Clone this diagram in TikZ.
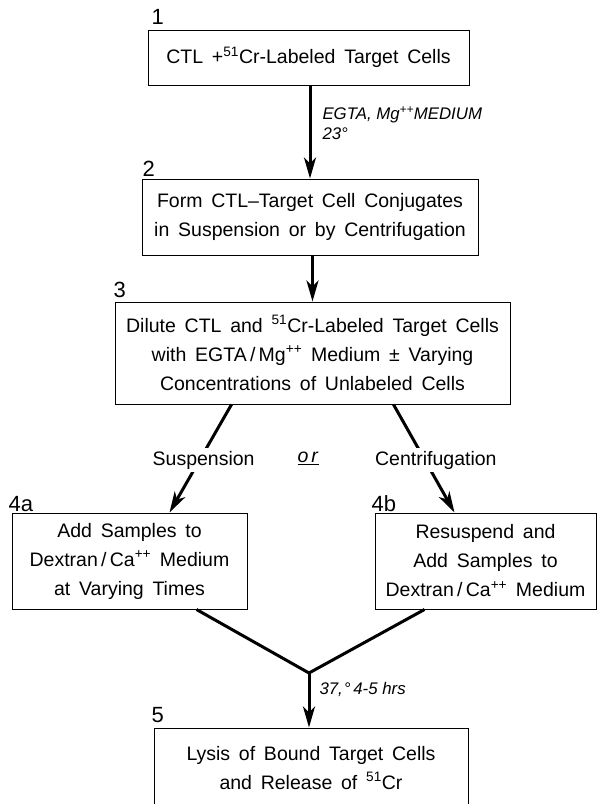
\documentclass[tikz,border=0pt]{standalone}
\usepackage{fontspec}
\setmainfont{Liberation Sans}
\usetikzlibrary{arrows.meta}
\newcommand\boxfont{\fontsize{19.5}{29}\selectfont\spaceskip=0.45em\relax}
\newcommand\numfont{\fontsize{22}{22}\selectfont}
\newcommand\condfont{\fontsize{16.8}{20}\selectfont\itshape}
\begin{document}
\begin{tikzpicture}[x=1pt,y=-1pt,
  box/.style={draw, line width=1pt, rectangle, inner sep=0pt, align=center, font=\boxfont},
  flow/.style={line width=3pt, -{Stealth[length=21pt,width=12pt,inset=6pt]}},
  plainline/.style={line width=3pt, line join=miter},
  num/.style={font=\numfont, anchor=base west, inner sep=0pt},
  cond/.style={font=\condfont, align=left, inner sep=0pt, anchor=west},
  branch/.style={font=\boxfont, fill=white, inner sep=3pt},
]
\useasboundingbox (0,0) rectangle (597,804);

% boxes
\node[box, minimum width=321pt, minimum height=55pt] (b1) at (308.5,57.5)
  {CTL +\textsuperscript{51}Cr-Labeled Target Cells};
\node[box, minimum width=336pt, minimum height=76pt] (b2) at (310,217)
  {Form CTL–Target Cell Conjugates\\in Suspension or by Centrifugation};
\node[box, minimum width=395pt, minimum height=102pt] (b3) at (312.5,353)
  {Dilute CTL and \textsuperscript{51}Cr-Labeled Target Cells\\with EGTA\,/\,Mg\textsuperscript{++} Medium ± Varying\\Concentrations of Unlabeled Cells};
\node[box, minimum width=235pt, minimum height=96pt] (b4a) at (129.5,561)
  {Add Samples to\\Dextran\,/\,Ca\textsuperscript{++} Medium\\at Varying Times};
\node[box, minimum width=221pt, minimum height=96pt] (b4b) at (485.5,561)
  {Resuspend and\\Add Samples to\\Dextran\,/\,Ca\textsuperscript{++} Medium};
\node[box, minimum width=314pt, minimum height=80pt] (b5) at (311,768)
  {Lysis of Bound Target Cells\\and Release of \textsuperscript{51}Cr};

% step numbers
\node[num] (n1) at ([xshift=4pt,yshift=5pt]b1.north west) {1};
\node[num] (n2) at ([xshift=1pt,yshift=2pt]b2.north west) {2};
\node[num] (n3) at ([xshift=-1pt,yshift=4pt]b3.north west) {3};
\node[num] (n4a) at ([xshift=-3pt,yshift=1pt]b4a.north west) {4a};
\node[num] (n4b) at ([xshift=-3pt,yshift=1pt]b4b.north west) {4b};
\node[num] (n5) at ([xshift=-2pt,yshift=5pt]b5.north west) {5};

% connectors
\draw[flow] (b2.north |- b1.south) --
  node[cond, xshift=11pt, yshift=9pt] (c1) {EGTA, Mg\textsuperscript{++}MEDIUM\\23°} (b2.north);
\draw[flow] (b3.north |- b2.south) -- (b3.north);

\draw[flow] ([xshift=117pt]b3.south west) --
  node[branch, pos=0.514, xshift=4pt] (sus) {Suspension} ([xshift=158pt]b4a.north west);
\draw[flow] ([xshift=279pt]b3.south west) --
  node[branch, pos=0.514, xshift=11pt] (cen) {Centrifugation} ([xshift=80pt]b4b.north west);
\node[font=\boxfont, inner sep=0pt] (or) at (308,458) {\underline{\textit{o\kern3pt r}}};

\coordinate (apex) at (309,673);
\draw[plainline] ([xshift=185pt]b4a.south west) -- (apex) -- ([xshift=50pt]b4b.south west);
\draw[flow] (apex) --
  node[cond, xshift=9pt, yshift=11pt] (c2) {37,\kern1pt°\,4-5 hrs} (apex |- b5.north);
\end{tikzpicture}
\end{document}
